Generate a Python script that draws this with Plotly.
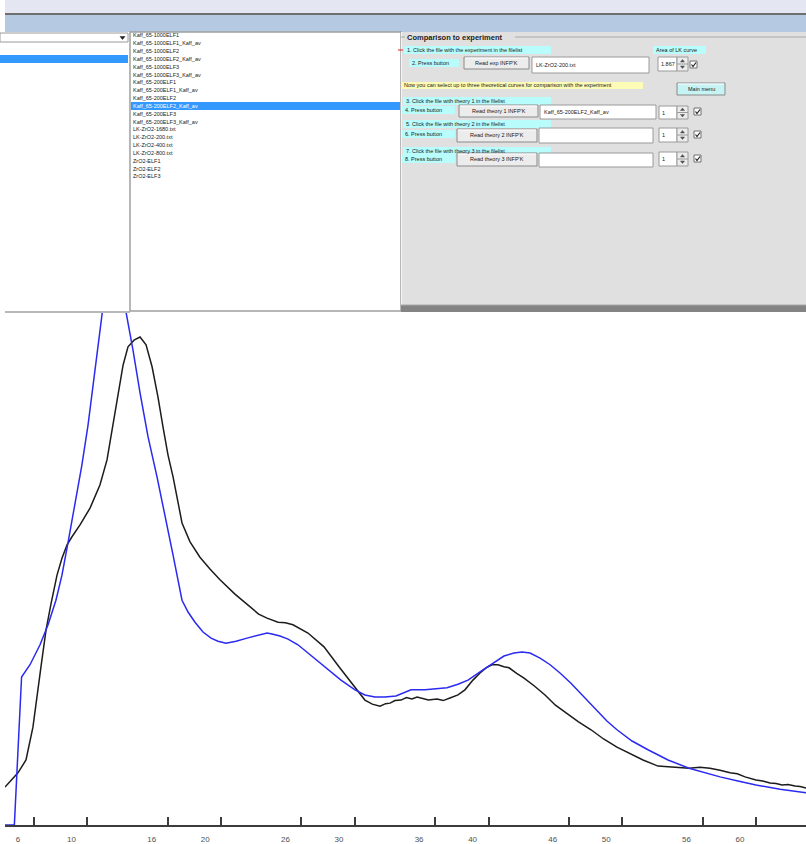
import plotly.graph_objects as go

W, H = 806, 844

# ---- spectra: energy loss (eV) vs. intensity (arb. units) ----
exp_x = [3.83, 4.80, 5.40, 5.92, 6.52, 6.90, 7.27, 7.72, 8.09, 8.47, 8.84, 9.44, 10.19,
         10.93, 11.46, 11.83, 12.28, 12.66, 13.03, 13.48, 13.93, 14.38, 14.83, 15.27,
         15.65, 16.02, 16.40, 16.77, 17.07, 17.67, 18.41, 19.16, 19.91, 21.03, 22.15,
         22.80, 23.43, 24.25, 24.80, 25.37, 26.49, 27.69, 28.81, 30.01, 30.75, 31.30,
         31.88, 32.30, 32.63, 33.00, 33.45, 33.85, 34.27, 34.65, 35.02, 35.50, 36.14,
         36.60, 37.11, 37.71, 38.23, 38.83, 39.36, 39.81, 40.25, 40.70, 41.15, 41.53,
         42.10, 42.65, 43.40, 44.22, 45.00, 45.79, 46.70, 47.66, 48.60, 49.60, 50.50,
         51.55, 52.67, 53.72, 54.99, 55.80, 56.56, 57.31, 58.06, 58.60, 59.18, 60.00,
         60.50, 61.05, 61.50, 61.95, 62.40, 62.92, 63.30, 63.74]
exp_y = [7.4, 10.2, 12.7, 19.1, 30.9, 38.1, 43.2, 48.8, 52.1, 54.7, 56.3, 58.6, 61.9,
         66.4, 71.3, 77.1, 84.4, 89.8, 93.4, 94.7, 95.3, 93.8, 89.5, 83.6,
         77.7, 72.3, 68.0, 63.1, 59.0, 55.3, 52.3, 50.0, 47.9, 45.1, 42.6,
         41.2, 40.4, 39.6, 39.5, 39.1, 37.5, 34.8, 30.9, 27.0, 24.4, 23.6,
         23.2, 23.7, 23.8, 24.3, 24.4, 24.9, 24.6, 25.0, 24.8, 24.4, 24.6,
         24.3, 24.8, 25.4, 26.4, 28.3, 29.7, 30.7, 31.3, 31.3, 30.9, 30.7,
         29.6, 28.7, 27.2, 25.4, 23.4, 21.9, 20.2, 18.6, 16.8, 15.2, 14.0,
         12.7, 11.5, 11.3, 11.1, 11.3, 11.1, 10.7, 10.2, 10.0, 9.4, 8.8,
         8.6, 8.2, 8.1, 7.8, 7.9, 7.6, 7.5, 7.2]

theo_x = [3.83, 4.53, 5.07, 5.70, 6.45, 7.05, 7.64, 8.09, 8.54, 9.07, 9.58, 10.04, 10.49,
          10.78, 11.06, 11.46, 11.83, 12.21, 12.88, 13.40, 13.93, 14.53, 15.20, 15.80,
          16.40, 17.07, 17.52, 18.04, 18.64, 19.24, 19.76, 20.36, 21.11, 21.93, 22.75,
          23.43, 23.80, 24.40, 25.00, 25.74, 26.49, 27.24, 28.06, 28.96, 30.01, 30.75,
          31.50, 32.25, 33.07, 33.75, 34.20, 35.24, 36.37, 36.89, 37.71, 38.46, 39.36,
          40.40, 41.15, 41.90, 42.50, 43.10, 43.85, 44.60, 45.34, 46.16, 47.06, 48.03,
          48.85, 49.60, 50.73, 51.92, 53.42, 54.99, 56.19, 57.31, 58.65, 60.00, 61.80,
          63.74]
theo_y = [0.0, 0.0, 28.9, 31.3, 35.2, 39.1, 43.9, 48.8, 55.1, 62.5, 70.3, 78.1, 87.9,
          94.7, 100.2, 107.4, 110.7, 108.4, 100.2, 92.8, 84.4, 75.8, 68.0, 60.5,
          52.7, 43.9, 41.6, 39.6, 37.7, 36.5, 35.9, 35.5, 35.9, 36.5, 37.1,
          37.5, 37.3, 36.9, 36.3, 35.2, 33.6, 32.0, 30.3, 28.3, 26.4, 25.4,
          25.0, 25.0, 25.2, 26.0, 26.4, 26.4, 26.6, 26.8, 27.5, 28.3, 29.9,
          31.8, 33.0, 33.6, 33.8, 33.6, 32.6, 31.3, 29.7, 27.7, 25.2, 22.5,
          20.3, 18.6, 16.4, 14.7, 12.7, 11.1, 10.2, 9.4, 8.6, 7.8, 7.0,
          6.3]

tick_vals = [6, 10, 16, 20, 26, 30, 36, 40, 46, 50, 56, 60]
tick_text = [str(v) for v in tick_vals]

file_list = ["Kaff_65-1000ELF1", "Kaff_65-1000ELF1_Kaff_av", "Kaff_65-1000ELF2",
             "Kaff_65-1000ELF2_Kaff_av", "Kaff_65-1000ELF3", "Kaff_65-1000ELF3_Kaff_av",
             "Kaff_65-200ELF1", "Kaff_65-200ELF1_Kaff_av", "Kaff_65-200ELF2",
             "Kaff_65-200ELF2_Kaff_av", "Kaff_65-200ELF3", "Kaff_65-200ELF3_Kaff_av",
             "LK-ZrO2-1680.txt", "LK-ZrO2-200.txt", "LK-ZrO2-400.txt", "LK-ZrO2-800.txt",
             "ZrO2-ELF1", "ZrO2-ELF2", "ZrO2-ELF3"]
selected_index = 9

fig = go.Figure()
fig.add_trace(go.Scatter(x=exp_x, y=exp_y, mode="lines",
                         line=dict(color="#1c1c1c", width=1.5), name="LK-ZrO2-200.txt"))
fig.add_trace(go.Scatter(x=theo_x, y=theo_y, mode="lines",
                         line=dict(color="#2a2af0", width=1.5), name="Kaff_65-200ELF2_Kaff_av"))


def X(px):
    return px / W


def Y(py):
    return 1 - py / H


shapes = []
annotations = []


def rect(x0, y0, x1, y1, fill, line_color=None, lw=1):
    shapes.append(dict(type="rect", xref="paper", yref="paper",
                       x0=X(x0), x1=X(x1), y0=Y(y1), y1=Y(y0),
                       fillcolor=fill,
                       line=dict(color=line_color or fill, width=lw if line_color else 0),
                       layer="above"))


def hline(x0, x1, y, color, lw=1):
    shapes.append(dict(type="line", xref="paper", yref="paper",
                       x0=X(x0), x1=X(x1), y0=Y(y), y1=Y(y),
                       line=dict(color=color, width=lw), layer="above"))


def vline(x, y0, y1, color, lw=1):
    shapes.append(dict(type="line", xref="paper", yref="paper",
                       x0=X(x), x1=X(x), y0=Y(y0), y1=Y(y1),
                       line=dict(color=color, width=lw), layer="above"))


def path(points, color, fill=None, lw=1):
    d = "M " + " L ".join(f"{X(a):.5f},{Y(b):.5f}" for a, b in points)
    if fill:
        d += " Z"
    shapes.append(dict(type="path", xref="paper", yref="paper", path=d,
                       line=dict(color=color, width=lw),
                       fillcolor=fill if fill else "rgba(0,0,0,0)", layer="above"))


def text(x, y, s, size=5.5, color="#202020", anchor="left", bold=False):
    annotations.append(dict(xref="paper", yref="paper", x=X(x), y=Y(y), text=f"<b>{s}</b>" if bold else s,
                            showarrow=False, xanchor=anchor, yanchor="middle",
                            borderpad=0, font=dict(family="Liberation Sans, Arial", size=size, color=color)))


def button(x0, y0, x1, y1, label, fill="#ececec"):
    rect(x0, y0, x1, y1, fill, "#8a8a8a", 1)
    hline(x0 + 1, x1 - 1, y0 + 1, "#ffffff")
    text((x0 + x1) / 2, (y0 + y1) / 2, label, anchor="center")


def textbox(x0, y0, x1, y1, value=""):
    rect(x0, y0, x1, y1, "#ffffff", "#9a9a9a", 1)
    if value:
        text(x0 + 3, (y0 + y1) / 2, value)


def spin(x0, y0, x1, y1, value):
    rect(x0, y0, x1, y1, "#ffffff", "#9a9a9a", 1)
    text(x0 + 2, (y0 + y1) / 2, value)
    ym = (y0 + y1) / 2
    rect(x1, y0, x1 + 11, y1, "#ececec", "#9a9a9a", 1)
    hline(x1, x1 + 11, ym, "#9a9a9a")
    cx = x1 + 5.5
    path([(cx - 2, ym - 2), (cx + 2, ym - 2), (cx, ym - 4.5)], "#505050", "#505050", 0.5)
    path([(cx - 2, ym + 2), (cx + 2, ym + 2), (cx, ym + 4.5)], "#505050", "#505050", 0.5)


def checkbox(x0, y0):
    rect(x0, y0, x0 + 7, y0 + 7, "#ffffff", "#707070", 1)
    path([(x0 + 1.5, y0 + 3.5), (x0 + 3, y0 + 5.5), (x0 + 6, y0 + 1.5)], "#202020", None, 1.2)


def label(x0, y0, x1, y1, s, bg="#b8fcfc"):
    rect(x0, y0, x1, y1, bg)
    text(x0 + 2, (y0 + y1) / 2, s)


# ---- window chrome ----
rect(5, 0, 806, 13, "#e4e7f2")
hline(5, 806, 14, "#6e6e6e", 2)
rect(5, 15, 806, 32, "#b5c9e2")

# ---- left pane: combo box and list ----
rect(0, 33, 128, 42, "#ffffff", "#9a9a9a", 1)
path([(120, 36.5), (125, 36.5), (122.5, 39.5)], "#202020", "#202020", 0.5)
rect(0, 55, 128, 63, "#3399ff")
hline(5, 130, 312, "#a0a0a0", 1.5)

# file list
rect(130, 32, 401, 311, "#ffffff", "#a0a0a0", 1.5)
row_h = 7.83
for i, name in enumerate(file_list):
    yc = 35.5 + i * row_h
    if i == selected_index:
        rect(131, yc - 4, 400, yc + 4, "#3399ff")
        text(132, yc, name, color="#ffffff")
    else:
        text(132, yc, name)

# ---- right pane: comparison controls ----
rect(401, 32, 806, 306, "#e0e0e0")
vline(401.5, 32, 306, "#f4f4f4")
rect(401, 305, 806, 312, "#838383")
hline(401, 806, 305, "#a8a8a8")
hline(401, 405, 37, "#a8a8a8")
hline(515, 806, 37, "#a8a8a8")
text(406, 37, "Comparison to experiment", size=7.5, bold=True)
hline(398, 403, 50, "#e02020", 1)

label(404, 46, 551, 54, "1. Click the file with the experiment in the filelist")
label(409, 59, 459, 67, "2. Press button")
button(464, 57, 529, 69, "Read exp INFP'K")
textbox(532, 57, 649, 73, "LK-ZrO2-200.txt")
label(653, 46, 706, 54, "Area of LK curve")
spin(658, 57, 677, 71, "1.867")
checkbox(690, 61)

label(401, 82, 643, 89, "Now you can select up to three theoretical curves for comparison with the experiment", bg="#fdfcb6")
button(677, 83, 725, 95, "Main menu", fill="#c6f3f3")

label(403, 97, 551, 105, "3. Click the file with theory 1 in the filelist")
label(402, 106, 455, 114, "4. Press button")
button(459, 105, 538, 117, "Read theory 1 INFP'K")
textbox(540, 105, 656, 119, "Kaff_65-200ELF2_Kaff_av")
spin(659, 106, 677, 119, "1")
checkbox(694, 108)

label(403, 120, 551, 128, "5. Click the file with theory 2 in the filelist")
label(402, 130, 455, 138, "6. Press button")
button(457, 129, 537, 142, "Read theory 2 INFP'K")
textbox(539, 128, 653, 143)
spin(659, 128, 677, 142, "1")
checkbox(694, 131)

label(403, 147, 551, 155, "7. Click the file with theory 3 in the filelist")
label(402, 155, 455, 163, "8. Press button")
button(457, 153, 537, 166, "Read theory 3 INFP'K")
textbox(539, 153, 653, 167)
spin(659, 152, 677, 166, "1")
checkbox(694, 155)

fig.update_layout(
    width=W, height=H,
    margin=dict(l=0, r=0, t=0, b=0, pad=0),
    paper_bgcolor="#ffffff", plot_bgcolor="#ffffff",
    showlegend=False,
    shapes=shapes, annotations=annotations,
    xaxis=dict(domain=[X(5), 1.0], range=[3.83, 63.74], showgrid=False, zeroline=False,
               showline=True, linecolor="#3c3c3c", linewidth=2,
               ticks="inside", ticklen=8, tickwidth=2, tickcolor="#3c3c3c",
               tickvals=tick_vals, ticktext=tick_text, ticklabelshift=-16,
               ticklabelstandoff=5,
               tickfont=dict(family="Liberation Sans, Arial", size=8, color="#505050")),
    yaxis=dict(domain=[Y(825), Y(313)], range=[0, 100], visible=False),
)

fig.write_html("out.html", config={"displayModeBar": False})
